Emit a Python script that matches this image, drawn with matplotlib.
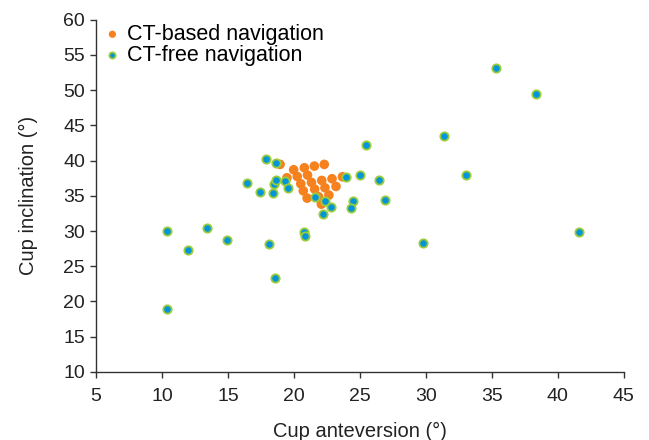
import matplotlib
matplotlib.use("Agg")
import matplotlib.pyplot as plt

plt.rcParams['font.family'] = ['Liberation Sans', 'DejaVu Sans']

# CT-based navigation (anteversion, inclination)
ct_based_x = [18.95, 19.98, 20.79, 21.55, 22.30, 19.47, 20.25, 21.03, 20.52, 21.33,
              22.11, 22.89, 23.68, 20.71, 21.57, 22.35, 23.19, 21.00, 21.87, 22.65,
              22.08]
ct_based_y = [39.46, 38.70, 38.98, 39.22, 39.46, 37.56, 37.75, 37.94, 36.71, 36.90,
              37.18, 37.42, 37.70, 35.71, 35.95, 36.14, 36.33, 34.67, 34.86, 35.10,
              33.81]

# CT-free navigation
ct_free_x = [35.34, 38.39, 31.34, 25.46, 33.04, 26.48, 26.89, 25.00, 23.95, 24.46,
             24.35, 22.84, 22.33, 22.22, 21.60, 17.85, 18.63, 16.44, 17.42, 18.44,
             18.50, 18.66, 19.36, 19.57, 10.37, 13.39, 11.96, 14.96, 18.14, 20.79,
             20.87, 18.55, 10.37, 29.78, 41.60]
ct_free_y = [53.20, 49.47, 43.44, 42.16, 37.99, 37.28, 34.43, 37.94, 37.61, 34.29,
             33.29, 33.39, 34.24, 32.39, 34.90, 40.17, 39.70, 36.85, 35.52, 35.38,
             36.61, 37.23, 37.04, 36.04, 30.07, 30.45, 27.27, 28.79, 28.17, 29.92,
             29.26, 23.33, 18.97, 28.26, 29.92]

fig = plt.figure(figsize=(6.49, 4.40), dpi=100)
ax = fig.add_axes([0.148, 0.155, 0.813, 0.80])

ax.scatter(ct_based_x, ct_based_y, s=48, c='#f5821f', edgecolors='none',
           label='CT-based navigation', zorder=2)
ax.scatter(ct_free_x, ct_free_y, s=36, c='#0095da', edgecolors='#9ccb3b',
           linewidths=1.3, label='CT-free navigation', zorder=3)

ax.set_xlim(5, 45)
ax.set_ylim(10, 60)
ax.set_xticks(range(5, 46, 5))
ax.set_yticks(range(10, 61, 5))
ax.spines['top'].set_visible(False)
ax.spines['right'].set_visible(False)
for s in ('left', 'bottom'):
    ax.spines[s].set_linewidth(1.0)
    ax.spines[s].set_color('#333333')
ax.tick_params(direction='out', length=4, width=1.0, colors='#333333',
               labelsize=14, labelcolor='#222222')
ax.tick_params(axis='x', pad=8)
ax.tick_params(axis='y', pad=4)

ax.set_xlabel('Cup anteversion (°)', fontsize=14.5, color='#222222', labelpad=12)
ax.set_ylabel('Cup inclination (°)', fontsize=14.5, color='#222222', labelpad=18)

ax.legend(loc='upper left', bbox_to_anchor=(-0.018, 1.025), frameon=False,
          fontsize=15.5, handletextpad=0.1, labelspacing=0.0,
          borderaxespad=0.2, handlelength=1.2, markerscale=0.75)

fig.savefig('out.png', dpi=100)
